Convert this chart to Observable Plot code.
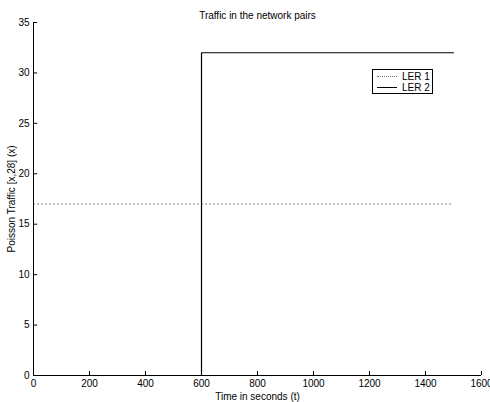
<!DOCTYPE html>
<html>
<head>
<meta charset="utf-8">
<script src="https://cdn.jsdelivr.net/npm/d3@7"></script>
<script src="https://cdn.jsdelivr.net/npm/@observablehq/plot@0.6"></script>
<style>
  body { margin: 0; background: #fff; font-family: "Liberation Sans", Arial, sans-serif; }
  #wrap { position: relative; width: 490px; height: 402px; }
  #legend { position: absolute; left: 372px; top: 69px; width: 61px; height: 25px; border: 1px solid #000; background: #fff; box-sizing: border-box; font-size: 10px; line-height: 11px; padding-top: 1px; }
  #legend .row { display: flex; align-items: center; height: 11px; }
  #legend .sw { width: 20px; margin-left: 4px; margin-right: 5px; height: 0; }
</style>
</head>
<body>
<div id="wrap"></div>
<script>
const titleText = "Traffic in the network pairs";
const xLabel = "Time in seconds (t)";
const yLabel = "Poisson Traffic [x,28] (x)";
const xTicks = [0, 200, 400, 600, 800, 1000, 1200, 1400, 1600];
const yTicks = [0, 5, 10, 15, 20, 25, 30, 35];
const ler1Time = [0, 1500];
const ler1Value = [17, 17];
const ler2Time = [0, 600, 600, 1500];
const ler2Value = [0, 0, 32, 32];
const seriesNames = ["LER 1", "LER 2"];

const ler1 = ler1Time.map((t, i) => ({t, v: ler1Value[i]}));
const ler2 = ler2Time.map((t, i) => ({t, v: ler2Value[i]}));

const chart = Plot.plot({
  width: 490,
  height: 402,
  marginLeft: 33,
  marginRight: 9,
  marginTop: 22,
  marginBottom: 27,
  style: {fontFamily: "Liberation Sans, Arial, sans-serif", fontSize: "10px", color: "#000", background: "#fff"},
  x: {domain: [0, 1600]},
  y: {domain: [0, 35]},
  marks: [
    Plot.line(ler1, {x: "t", y: "v", stroke: "#777", strokeWidth: 1, strokeDasharray: "1,3"}),
    Plot.line(ler2, {x: "t", y: "v", stroke: "#000", strokeWidth: 1.2}),
    Plot.ruleY([0], {stroke: "#000"}),
    Plot.ruleX([0], {stroke: "#000"}),
    Plot.ruleX(xTicks, {x: d => d, y1: 0, y2: 0.4, stroke: "#000"}),
    Plot.ruleY(yTicks, {y: d => d, x1: 0, x2: 15, stroke: "#000"}),
    Plot.axisX({ticks: xTicks, tickFormat: d3.format("d"), tickSize: 0, tickPadding: 4, label: xLabel, labelAnchor: "center", labelArrow: "none", labelOffset: 24, fontSize: 10}),
    Plot.axisY({ticks: yTicks, tickFormat: d3.format("d"), tickSize: 0, tickPadding: 4, label: yLabel, labelAnchor: "center", labelArrow: "none", labelOffset: 26, fontSize: 10}),
    Plot.text([titleText], {frameAnchor: "top", dy: -11, text: d => d, fontSize: 10})
  ]
});
document.getElementById("wrap").appendChild(chart);

const legend = document.createElement("div");
legend.id = "legend";
const styles = ["1px dotted #777", "1px solid #000"];
seriesNames.forEach((name, i) => {
  const row = document.createElement("div");
  row.className = "row";
  const sw = document.createElement("div");
  sw.className = "sw";
  sw.style.borderTop = styles[i];
  const lab = document.createElement("span");
  lab.textContent = name;
  row.appendChild(sw);
  row.appendChild(lab);
  legend.appendChild(row);
});
document.getElementById("wrap").appendChild(legend);
</script>
</body>
</html>
